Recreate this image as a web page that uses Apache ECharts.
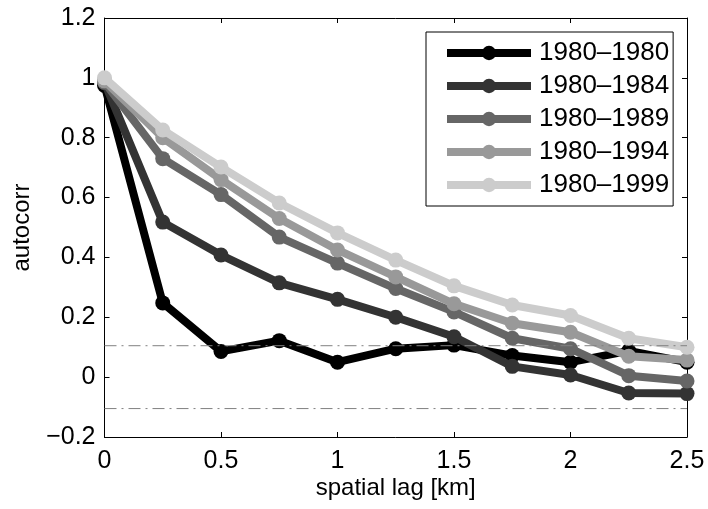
<!DOCTYPE html>
<html>
<head>
<meta charset="utf-8">
<script src="https://cdn.jsdelivr.net/npm/echarts@6/dist/echarts.min.js"></script>
<style>html,body{margin:0;padding:0;background:#fff}#c{width:708px;height:509px}</style>
</head>
<body>
<div id="c"></div>
<script>
const lags = [0, 0.25, 0.5, 0.75, 1.0, 1.25, 1.5, 1.75, 2.0, 2.25, 2.5];
const s1980 = [0.975, 0.248, 0.086, 0.122, 0.050, 0.095, 0.107, 0.072, 0.050, 0.088, 0.050];
const s1984 = [0.985, 0.518, 0.408, 0.315, 0.260, 0.200, 0.135, 0.036, 0.007, -0.053, -0.055];
const s1989 = [0.985, 0.730, 0.610, 0.468, 0.381, 0.296, 0.218, 0.130, 0.095, 0.005, -0.013];
const s1994 = [0.990, 0.800, 0.660, 0.530, 0.425, 0.335, 0.245, 0.180, 0.150, 0.070, 0.057];
const s1999 = [1.000, 0.826, 0.702, 0.582, 0.482, 0.391, 0.305, 0.241, 0.206, 0.130, 0.100];
const seriesNames = ['1980\u20131980', '1980\u20131984', '1980\u20131989', '1980\u20131994', '1980\u20131999'];
const seriesData = [s1980, s1984, s1989, s1994, s1999];
const seriesColors = ['#000000', '#333333', '#666666', '#999999', '#cccccc'];
const threshold = 0.105;
const xTicks = {min: 0, max: 2.5, interval: 0.5};
const yTicks = {min: -0.2, max: 1.2, interval: 0.2};

const FONT = '"Liberation Sans", Arial, Helvetica, sans-serif';
function fmt(v) {
  const s = String(parseFloat(v.toFixed(2)));
  return s.replace('-', '\u2212');
}
const chart = echarts.init(document.getElementById('c'));
const series = seriesNames.map((n, i) => ({
  name: n, type: 'line',
  data: lags.map((x, j) => [x, seriesData[i][j]]),
  symbol: 'circle', symbolSize: 15, showSymbol: true,
  lineStyle: {width: 8, color: seriesColors[i], join: 'round'},
  itemStyle: {color: seriesColors[i]},
  emphasis: {disabled: true},
  animation: false,
  z: 2 + i
}));
[threshold, -threshold].forEach(t => {
  series.push({
    type: 'line', name: 'thr',
    data: [[xTicks.min, t], [xTicks.max, t]],
    symbol: 'none', silent: true, animation: false,
    lineStyle: {width: 1, color: '#808080', type: [12, 5, 2, 5]},
    z: 10
  });
});
const axisCommon = {
  type: 'value', splitLine: {show: false},
  axisLine: {show: true, onZero: false, lineStyle: {color: '#000', width: 1}},
  axisTick: {show: true, inside: true, length: 5, lineStyle: {color: '#000'}},
};
chart.setOption({
  animation: false,
  backgroundColor: '#fff',
  grid: {left: 104.5, right: 21, top: 18, bottom: 72, show: false},
  legend: {
    data: seriesNames,
    orient: 'vertical', left: 426, top: 32,
    padding: [8, 4, 8, 17],
    itemWidth: 84, itemHeight: 18, itemGap: 7,
    borderColor: '#000', borderWidth: 1, backgroundColor: '#fff',
    lineStyle: {width: 8},
    textStyle: {fontFamily: FONT, fontSize: 26, color: '#000', lineHeight: 26, padding: [0, 0, 0, 3]},
    selectedMode: false
  },
  xAxis: [
    Object.assign({}, axisCommon, {
      min: xTicks.min, max: xTicks.max, interval: xTicks.interval, position: 'bottom',
      axisLabel: {fontFamily: FONT, fontSize: 25, color: '#000', margin: 12, formatter: fmt},
      name: 'spatial lag [km]', nameLocation: 'middle', nameGap: 39, nameMoveOverlap: false,
      nameTextStyle: {fontFamily: FONT, fontSize: 24, color: '#000'}
    }),
    Object.assign({}, axisCommon, {
      min: xTicks.min, max: xTicks.max, interval: xTicks.interval, position: 'top',
      axisLabel: {show: false}
    })
  ],
  yAxis: [
    Object.assign({}, axisCommon, {
      min: yTicks.min, max: yTicks.max, interval: yTicks.interval, position: 'left',
      axisLabel: {fontFamily: FONT, fontSize: 25, color: '#000', margin: 9, formatter: fmt},
      name: 'autocorr', nameLocation: 'middle', nameGap: 70, nameMoveOverlap: false,
      nameTextStyle: {fontFamily: FONT, fontSize: 24, color: '#000'}
    }),
    Object.assign({}, axisCommon, {
      min: yTicks.min, max: yTicks.max, interval: yTicks.interval, position: 'right',
      axisLabel: {show: false}
    })
  ],
  series: series
});
</script>
</body>
</html>
